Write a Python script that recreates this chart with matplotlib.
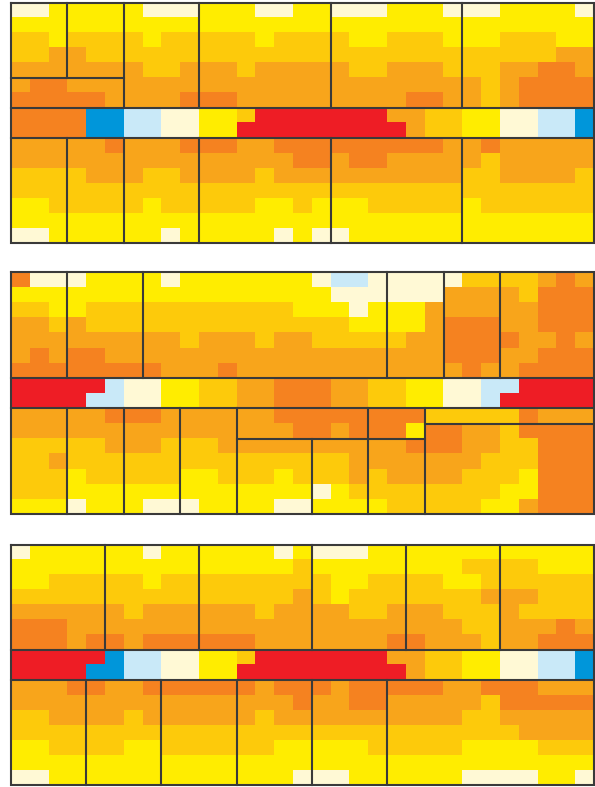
import matplotlib
matplotlib.use('Agg')
import matplotlib.pyplot as plt
import numpy as np
from matplotlib.colors import ListedColormap, BoundaryNorm

#############################################################
## Dados: categorias de cada célula (16 linhas x 31 colunas)
#############################################################
# B = azul escuro, L = azul claro, C = creme, Y = amarelo,
# G = dourado, O = laranja claro, R = laranja, X = vermelho
categorias = ['B', 'L', 'C', 'Y', 'G', 'O', 'R', 'X']
cores = ['#0096DA', '#C9E9F8', '#FFF9D5', '#FFED00', '#FDCA0B', '#F8A51B', '#F58220', '#EE1D25']

painel1 = [
    "CCYYYYYCCCYYYCC" + "YYCCCYYYCCCYYYYC",
    "YYYYYYYYYYYYYYY" + "YYYYYYYYYYYYYYYY",
    "GGYGGGGYGGGGGYG" + "GGGYYGGGYYYGGGYY",
    "GGOOGGGGGGGGGGG" + "GGGGGGGGGGGGGGOO",
    "OOOOOOOGGOOOGOO" + "OOOGGOOOGGGOORRO",
    "ORROOOOOOOOOOOO" + "OOOOOOOOOOGORRRR",
    "RRRRROOOORRROOO" + "OOOOOORROOGORRRR",
    "RRRRBBLLCCYYGXX" + "XXXXXOOGGYYCCLLB",
    "RRRRBBLLCCYYXXX" + "XXXXXXOGGYYCCLLB",
    "OOOOOROOORRROOR" + "RRRRRRRROOROOOOO",
    "OOOOOOOOOOOOOOO" + "RRORROOOOOGOOOOO",
    "GGGGOOOGGOOOOGO" + "OOOOOOOOOGGOOOOG",
    "GGGGGGGGGGGGGGG" + "GGGGGGGGGGGGGGGG",
    "YYGGGGGYGGGGGYY" + "GYYYGGGGGYGGGGGG",
    "YYYYYYYYYYYYYYY" + "YYYYYYYYYYYYYYYY",
    "CCYYYYYYCYYYYYC" + "YCCYYYYYYYYYYYYY",
]

painel2 = [
    "RCCCYYYYCYYYYYY" + "YCLLCCCCCGGGGORO",
    "YYYYYYYYYYYYYYY" + "YYCCCCCCOOOOGRRR",
    "GGYYGGGGGGGGGGG" + "YYYCYYYOOOOOORRR",
    "OOGOGGGGGGGGGGG" + "GGGYYYYORRROORRR",
    "OOOOOOOOOGOOOGO" + "OGGGGGOORRRROORO",
    "ORORROOOOOOOOOO" + "OOOOOOOORRROORRR",
    "RRRRRRRROOOROOO" + "OOOOOOOOOROORRRR",
    "XXXXXLCCYYGGOOR" + "RROOGGYYCCLLXXXX",
    "XXXXLLCCYYGGOOR" + "RROOGGYYCCLXXXXX",
    "OOOOORRROOOOOOR" + "RRRRRRRGGGGGROOO",
    "OOOOOOOOOOOOOOO" + "RRORRRYRROOGRRRR",
    "GGGGGOOOGGGOOOO" + "OOOOOORRROOGGRRR",
    "GGOGGGGGGGGGGGG" + "GGGOOOOOOOGGGRRR",
    "GGGYGGGGGYYGGGY" + "GGGOGOOOOGGGYRRR",
    "GGGYYYYYYYYYYYY" + "YCYGGGGGGGGYYRRR",
    "YYYCYYYCCCYYYYC" + "CYYYYGGGGGYYORRR",
]

painel3 = [
    "CYYYYYYCYYYYYYC" + "YCCCYYYYYYYYYYYY",
    "YYYYYYYYYYYYYYY" + "GYYYYYYYYGGGGYYY",
    "YYGGGGGYGGGGGGG" + "GGYYGGGGYYGGGGGG",
    "GGGGGGGGGGGGGGG" + "OGYGGGGGGGOOOGGG",
    "OOOOOOGOOOOOOGO" + "OOOGGOOOGGGOGGGG",
    "RRROOOOOOOOOOOO" + "OOOOOOOOOGGOOORO",
    "RRRORRORRRRRROO" + "OOOOORROOOGOORRR",
    "XXXXXBLLCCYYGXX" + "XXXXXOOGGYYCCLLB",
    "XXXXBBLLCCYYXXX" + "XXXXXXOGGYYCCLLB",
    "OOORROORRRRRROR" + "RRORRRRROORRROOO",
    "OOOOOOOOOOOOOOO" + "ROORROOOOOGRRRRR",
    "GGOOOOGOOOOOOGO" + "OOOOOOOOOGGOOOOO",
    "GGGGGGGGGGGGGGG" + "GGGGGGGGGGGGOOOO",
    "YYGGGGYYGGGGGGY" + "YYYYGGGGGYYYYGGG",
    "YYYYYYYYYYYYYYY" + "YYYYYYYYYYYYYYYY",
    "CCYYYYYYYYYYYYY" + "CCCYYYYYYCCCCYYC",
]

# Divisões dos blocos: (x, y_ini, y_fim) verticais e (y, x_ini, x_fim) horizontais
verticais1 = [(3, 0, 5), (6, 0, 7), (10, 0, 7), (17, 0, 7), (24, 0, 7),
              (3, 9, 16), (6, 9, 16), (10, 9, 16), (17, 9, 16), (24, 9, 16)]
horizontais1 = [(5, 0, 6)]

verticais2 = [(3, 0, 7), (7, 0, 7), (20, 0, 7), (23, 0, 7), (26, 0, 7),
              (3, 9, 16), (6, 9, 16), (9, 9, 16), (12, 9, 16), (19, 9, 16),
              (22, 9, 16), (16, 11, 16)]
horizontais2 = [(11, 12, 22), (10, 22, 31)]

verticais3 = [(5, 0, 7), (10, 0, 7), (16, 0, 7), (21, 0, 7), (26, 0, 7),
              (4, 9, 16), (8, 9, 16), (12, 9, 16), (16, 9, 16), (20, 9, 16)]
horizontais3 = []

#############################################################
## Figura
#############################################################
cmap = ListedColormap(cores)
norm = BoundaryNorm(np.arange(len(cores) + 1) - 0.5, len(cores))
cor_linha = '#3a3a3a'
lw = 1.5

fig = plt.figure(figsize=(5.95, 7.87), dpi=100)

# posições dos painéis em pixels (topo, base)
posicoes = [(2.7, 243.0), (272.3, 514.3), (545.0, 785.0)]
paineis = [(painel1, verticais1, horizontais1),
           (painel2, verticais2, horizontais2),
           (painel3, verticais3, horizontais3)]

for (topo, base), (dados, verts, hors) in zip(posicoes, paineis):
    matriz = np.array([[categorias.index(c) for c in linha] for linha in dados])
    nlin, ncol = matriz.shape
    ax = fig.add_axes([11 / 595, (787 - base) / 787, 583 / 595, (base - topo) / 787])
    ax.imshow(matriz, cmap=cmap, norm=norm, interpolation='nearest',
              extent=(0, ncol, nlin, 0), aspect='auto')
    ax.set_xlim(0, ncol)
    ax.set_ylim(nlin, 0)
    ax.axis('off')

    # borda externa e faixa central
    ax.plot([0, ncol, ncol, 0, 0], [0, 0, nlin, nlin, 0], color=cor_linha, lw=lw,
            clip_on=False, solid_joinstyle='miter')
    for y in (7, 9):
        ax.plot([0, ncol], [y, y], color=cor_linha, lw=lw, clip_on=False)

    for x, y0, y1 in verts:
        ax.plot([x, x], [y0, y1], color=cor_linha, lw=lw, clip_on=False)
    for y, x0, x1 in hors:
        ax.plot([x0, x1], [y, y], color=cor_linha, lw=lw, clip_on=False)

fig.savefig('out.png', dpi=100)
